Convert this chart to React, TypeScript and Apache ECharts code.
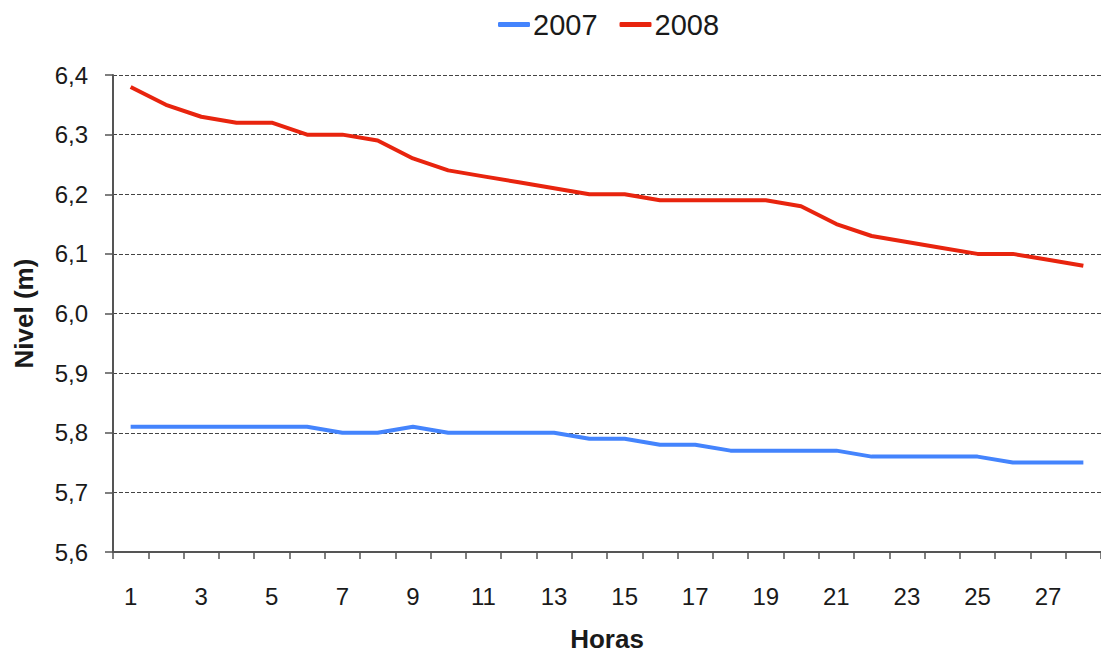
import React, { useEffect, useRef } from "react";
import * as echarts from "echarts";

const hours: string[] = [
  "1", "2", "3", "4", "5", "6", "7", "8", "9", "10", "11", "12", "13", "14",
  "15", "16", "17", "18", "19", "20", "21", "22", "23", "24", "25", "26", "27", "28",
];

const series2007: number[] = [
  5.81, 5.81, 5.81, 5.81, 5.81, 5.81, 5.8, 5.8, 5.81, 5.8, 5.8, 5.8, 5.8, 5.79,
  5.79, 5.78, 5.78, 5.77, 5.77, 5.77, 5.77, 5.76, 5.76, 5.76, 5.76, 5.75, 5.75, 5.75,
];

const series2008: number[] = [
  6.38, 6.35, 6.33, 6.32, 6.32, 6.3, 6.3, 6.29, 6.26, 6.24, 6.23, 6.22, 6.21, 6.2,
  6.2, 6.19, 6.19, 6.19, 6.19, 6.18, 6.15, 6.13, 6.12, 6.11, 6.1, 6.1, 6.09, 6.08,
];

const seriesNames: string[] = ["2007", "2008"];

export default function App() {
  const ref = useRef<HTMLDivElement>(null);

  useEffect(() => {
    if (!ref.current) return;
    const chart = echarts.init(ref.current, undefined, { renderer: "svg" });
    const font = "'Liberation Sans', Arial, Helvetica, sans-serif";
    chart.setOption({
      animation: false,
      backgroundColor: "#ffffff",
      textStyle: { fontFamily: font },
      legend: {
        data: seriesNames,
        left: 498,
        top: 10,
        padding: 0,
        itemWidth: 32,
        itemHeight: 5,
        itemGap: 22,
        icon: "roundRect",
        textStyle: { fontSize: 29, color: "#1a1a1a", fontFamily: font, padding: [0, 0, 0, -2] },
      },
      grid: { left: 113, right: -7, top: 75, bottom: 98, containLabel: false },
      xAxis: {
        type: "category",
        data: hours,
        boundaryGap: true,
        name: "Horas",
        nameLocation: "middle",
        nameGap: 74,
        nameTextStyle: { fontSize: 26, fontWeight: "bold", color: "#1a1a1a", fontFamily: font },
        axisLine: { show: true, lineStyle: { color: "#555555", width: 2 } },
        axisTick: { show: true, interval: 0, length: 7, lineStyle: { color: "#555555", width: 1.5 } },
        axisLabel: { interval: 1, fontSize: 24, color: "#1a1a1a", margin: 32, fontFamily: font },
        splitLine: { show: false },
      },
      yAxis: {
        type: "value",
        min: 5.6,
        max: 6.4,
        interval: 0.1,
        name: "Nivel (m)",
        nameLocation: "middle",
        nameRotate: 90,
        nameGap: 76,
        nameTextStyle: { fontSize: 26, fontWeight: "bold", color: "#1a1a1a", fontFamily: font },
        axisLine: { show: true, lineStyle: { color: "#555555", width: 2 } },
        axisTick: { show: true, length: 8, lineStyle: { color: "#555555", width: 1.5 } },
        axisLabel: {
          fontSize: 24,
          color: "#1a1a1a",
          margin: 25,
          fontFamily: font,
          padding: [12, 0, 0, 0],
          formatter: (v: number) => v.toFixed(1).replace(".", ","),
        },
        splitLine: { show: true, lineStyle: { color: "#444444", type: [4, 2], width: 1.2 } },
      },
      series: [
        {
          name: seriesNames[0],
          type: "line",
          data: series2007,
          symbol: "none",
          lineStyle: { color: "#4484fd", width: 4 },
          itemStyle: { color: "#4484fd" },
        },
        {
          name: seriesNames[1],
          type: "line",
          data: series2008,
          symbol: "none",
          lineStyle: { color: "#e8240e", width: 4 },
          itemStyle: { color: "#e8240e" },
        },
      ],
    });
    return () => chart.dispose();
  }, []);

  return (
    <div
      ref={ref}
      style={{ position: "absolute", left: 0, top: 0, width: 1101, height: 657 }}
    />
  );
}
